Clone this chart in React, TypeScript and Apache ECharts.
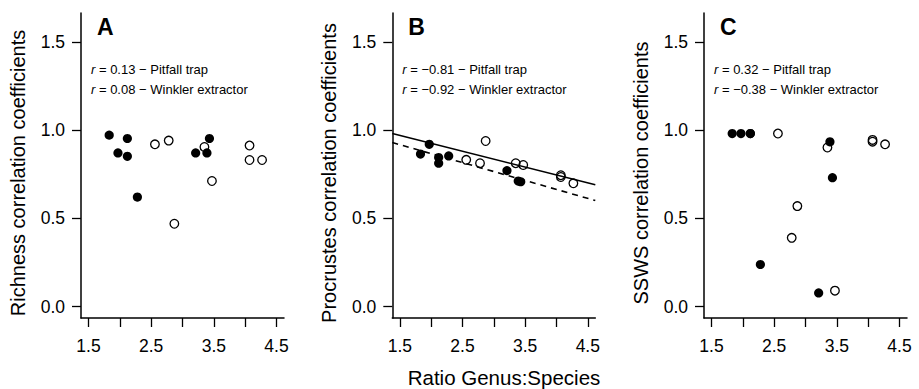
import React, { useEffect, useRef } from "react";
import * as echarts from "echarts";

// Shared x values (ratio genus:species) for the two sampling methods
const xFilled = [1.83, 1.97, 2.12, 2.12, 2.28, 3.21, 3.39, 3.43];
const xOpen = [2.56, 2.78, 2.87, 3.35, 3.47, 4.07, 4.07, 4.27];

// Panel A – Richness
const richFilled = [0.972, 0.871, 0.953, 0.852, 0.621, 0.871, 0.871, 0.953];
const richOpen = [0.92, 0.941, 0.47, 0.905, 0.712, 0.913, 0.831, 0.831];

// Panel B – Procrustes
const procFilled = [0.865, 0.92, 0.845, 0.813, 0.854, 0.771, 0.712, 0.708];
const procOpen = [0.832, 0.813, 0.939, 0.813, 0.803, 0.745, 0.735, 0.699];
// regression lines in panel B: [intercept, slope]
const procSolidFit = [1.1047, -0.0896];
const procDashedFit = [1.07, -0.1014];

// Panel C – SSWS
const sswsFilled = [0.981, 0.981, 0.981, 0.981, 0.239, 0.078, 0.934, 0.731];
const sswsOpen = [0.981, 0.39, 0.57, 0.902, 0.091, 0.945, 0.935, 0.92];

const panelLetters = ["A", "B", "C"];
const yTitles = [
  "Richness correlation coefficients",
  "Procrustes correlation coefficients",
  "SSWS correlation coefficients",
];
const pitfallR = ["0.13", "\u22120.81", "0.32"];
const winklerR = ["0.08", "\u22120.92", "\u22120.38"];
const xTitle = "Ratio Genus:Species";

const xTicks = [1.5, 2, 2.5, 3, 3.5, 4, 4.5];
const xTickLabels = [1.5, 2.5, 3.5, 4.5];
const yTicks = [0, 0.5, 1, 1.5];

const X_MIN = 1.38;
const X_MAX = 4.62;
const Y_MIN = -0.064;
const Y_MAX = 1.664;

const FONT = "'Liberation Sans', Arial, Helvetica, sans-serif";

export default function App() {
  const ref = useRef<HTMLDivElement>(null);

  useEffect(() => {
    if (!ref.current) return;
    const chart = echarts.init(ref.current, null, { renderer: "svg" });

    const gridLefts = [81, 392.3, 704];
    const gridTop = 13;
    const gridW = 203;
    const gridH = 305;

    const pair = (xs: number[], ys: number[]) => xs.map((x, i) => [x, ys[i]]);
    const fitLine = (fit: number[]) => [
      [X_MIN, fit[0] + fit[1] * X_MIN],
      [X_MAX, fit[0] + fit[1] * X_MAX],
    ];

    const panels = [
      { filled: richFilled, open: richOpen },
      { filled: procFilled, open: procOpen },
      { filled: sswsFilled, open: sswsOpen },
    ];

    const grid = gridLefts.map((l) => ({
      left: l,
      top: gridTop,
      width: gridW,
      height: gridH,
      containLabel: false,
    }));

    const xAxis = gridLefts.map((_, i) => ({
      type: "value",
      gridIndex: i,
      min: X_MIN,
      max: X_MAX,
      splitLine: { show: false },
      axisLine: { show: true, onZero: false, lineStyle: { color: "#000", width: 1.5 } },
      axisTick: {
        show: true,
        length: 9,
        inside: false,
        customValues: xTicks,
        lineStyle: { color: "#000", width: 1.3 },
      },
      axisLabel: {
        show: true,
        customValues: xTickLabels,
        margin: 19,
        color: "#000",
        fontSize: 17.5,
        fontFamily: FONT,
        formatter: (v: number) => v.toFixed(1),
      },
    }));

    const yAxis = gridLefts.map((_, i) => ({
      type: "value",
      gridIndex: i,
      min: Y_MIN,
      max: Y_MAX,
      splitLine: { show: false },
      axisLine: { show: true, onZero: false, lineStyle: { color: "#000", width: 1.5 } },
      axisTick: {
        show: true,
        length: 9,
        inside: false,
        customValues: yTicks,
        lineStyle: { color: "#000", width: 1.3 },
      },
      axisLabel: {
        show: true,
        customValues: yTicks,
        margin: 16,
        color: "#000",
        fontSize: 17.5,
        fontFamily: FONT,
        formatter: (v: number) => v.toFixed(1),
      },
    }));

    const series: any[] = [];
    // regression lines (panel B)
    series.push({
      type: "line",
      name: "fit solid",
      xAxisIndex: 1,
      yAxisIndex: 1,
      data: fitLine(procSolidFit),
      symbol: "none",
      lineStyle: { color: "#000", width: 1.6, type: "solid", opacity: 1 },
      z: 1,
    });
    series.push({
      type: "line",
      name: "fit dashed",
      xAxisIndex: 1,
      yAxisIndex: 1,
      data: fitLine(procDashedFit),
      symbol: "none",
      lineStyle: { color: "#000", width: 1.6, type: [6, 5], opacity: 1 },
      z: 1,
    });
    panels.forEach((p, i) => {
      series.push({
        type: "scatter",
        name: "open",
        xAxisIndex: i,
        yAxisIndex: i,
        data: pair(xOpen, p.open),
        symbol: "circle",
        symbolSize: 8.6,
        itemStyle: {
          color: "rgba(255,255,255,0)",
          borderColor: "#000",
          borderWidth: 1.3,
          opacity: 1,
        },
        z: 2,
      });
      series.push({
        type: "scatter",
        name: "filled",
        xAxisIndex: i,
        yAxisIndex: i,
        data: pair(xFilled, p.filled),
        symbol: "circle",
        symbolSize: 9.2,
        itemStyle: { color: "#000", borderWidth: 0, opacity: 1 },
        z: 3,
      });
    });

    const graphic: any[] = [];
    gridLefts.forEach((l, i) => {
      graphic.push({
        type: "text",
        x: l + 16,
        y: 27,
        style: {
          text: panelLetters[i],
          fill: "#000",
          fontSize: 23,
          fontWeight: "bold",
          fontFamily: FONT,
          align: "left",
          verticalAlign: "middle",
        },
      });
      const rich = { i: { fontStyle: "italic", fontSize: 13, fontFamily: FONT, fill: "#000" } };
      graphic.push({
        type: "text",
        x: l + 10,
        y: 69,
        style: {
          text: `{i|r} = ${pitfallR[i]} \u2212 Pitfall trap`,
          fill: "#000",
          fontSize: 13,
          fontFamily: FONT,
          align: "left",
          verticalAlign: "middle",
          rich,
        },
      });
      graphic.push({
        type: "text",
        x: l + 10,
        y: 89.5,
        style: {
          text: `{i|r} = ${winklerR[i]} \u2212 Winkler extractor`,
          fill: "#000",
          fontSize: 13,
          fontFamily: FONT,
          align: "left",
          verticalAlign: "middle",
          rich,
        },
      });
      graphic.push({
        type: "text",
        x: l - 63,
        y: 173,
        rotation: Math.PI / 2,
        style: {
          text: yTitles[i],
          fill: "#000",
          fontSize: 20,
          fontFamily: FONT,
          align: "center",
          verticalAlign: "middle",
        },
      });
    });
    graphic.push({
      type: "text",
      x: 504,
      y: 377,
      style: {
        text: xTitle,
        fill: "#000",
        fontSize: 20.5,
        fontFamily: FONT,
        align: "center",
        verticalAlign: "middle",
      },
    });

    chart.setOption({
      animation: false,
      backgroundColor: "#fff",
      grid,
      xAxis,
      yAxis,
      series,
      graphic,
    });

    return () => chart.dispose();
  }, []);

  return (
    <div
      ref={ref}
      style={{ position: "fixed", left: 0, top: 0, width: 919, height: 389, background: "#fff" }}
    />
  );
}
